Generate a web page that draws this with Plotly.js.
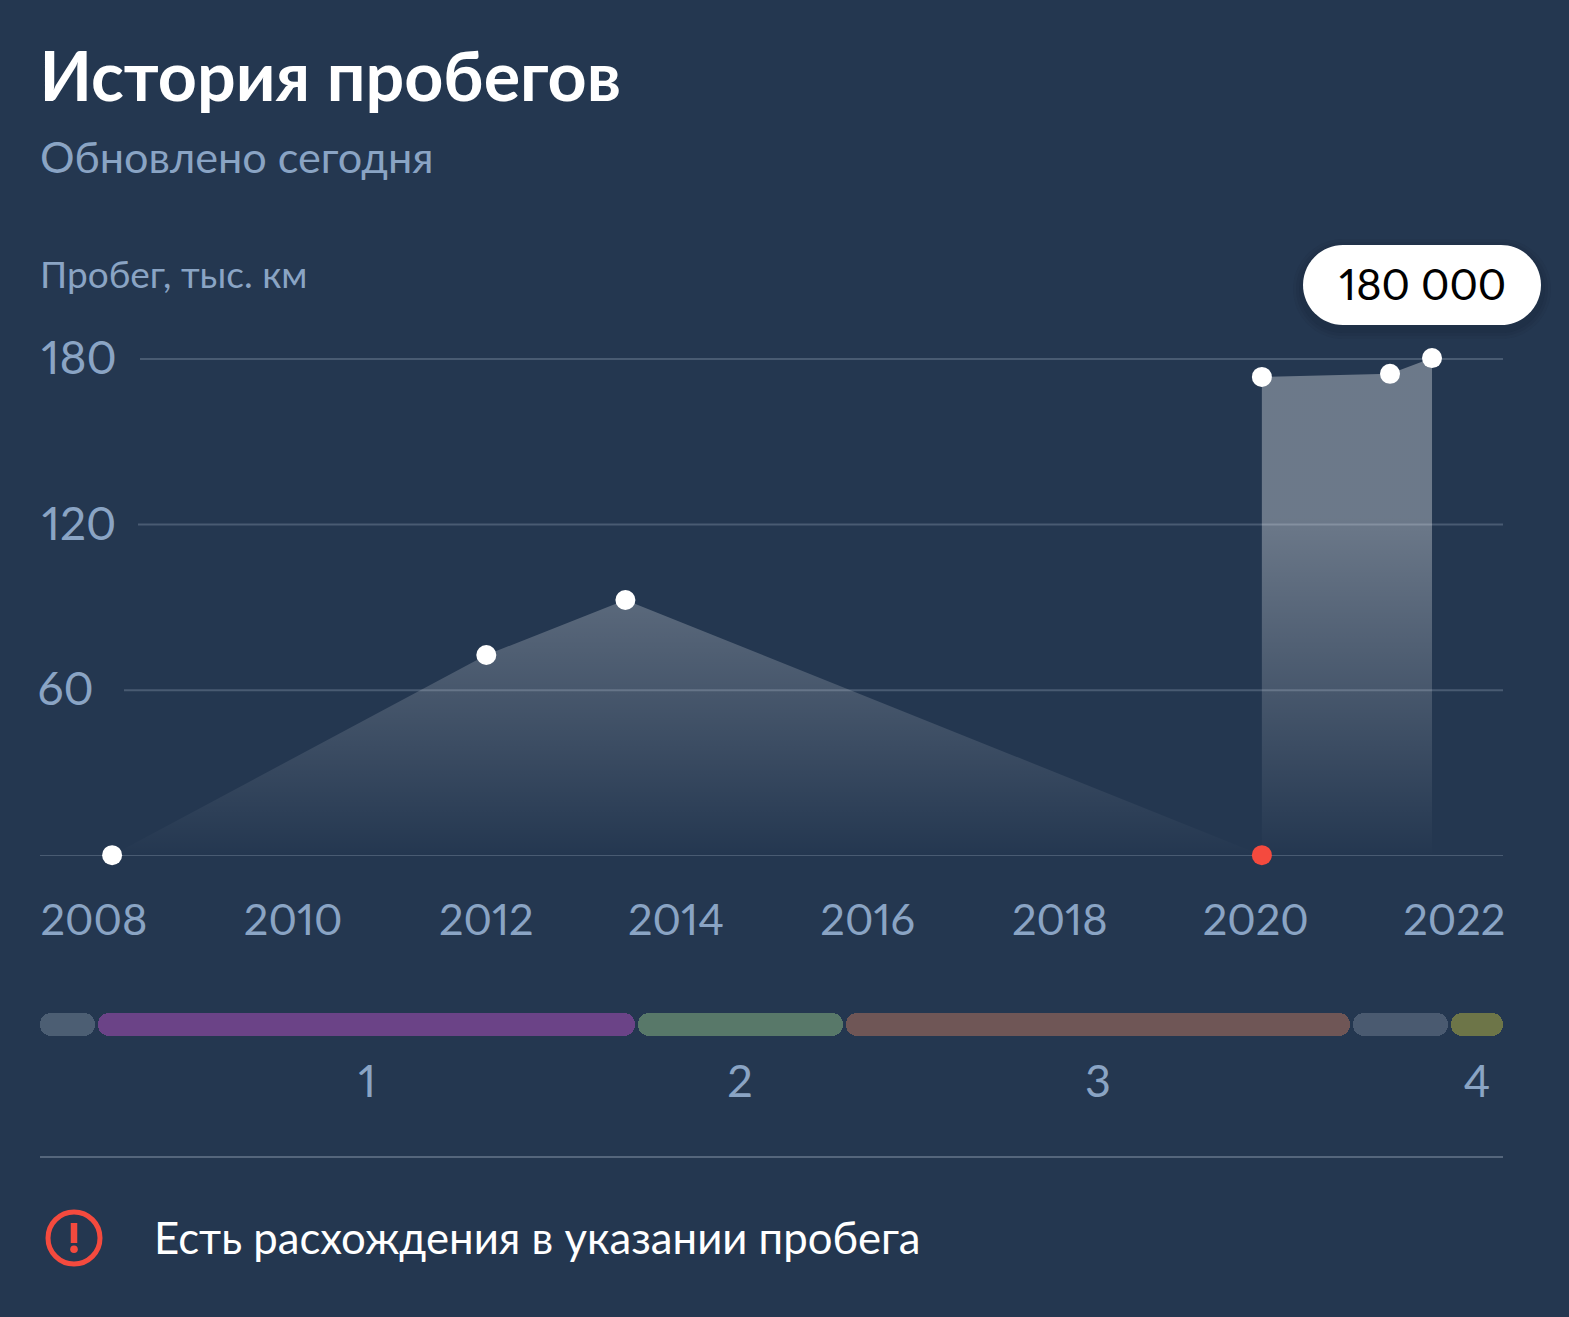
<!DOCTYPE html>
<html>
<head>
<meta charset="utf-8">
<script src="https://cdn.plot.ly/plotly-3.0.1.min.js"></script>
<style>html,body{margin:0;padding:0;background:#243750;overflow:hidden}#chart{width:1569px;height:1317px}
#chart svg text{font-feature-settings:"pnum" 1,"lnum" 1;font-variant-numeric:proportional-nums lining-nums}</style>
</head>
<body>
<div id="chart"></div>
<script>
// ---- data ----
const mileageYears = [2008.115, 2012.01, 2013.458, 2020.083, 2020.083, 2021.417, 2021.854];
const mileageValues = [0.3, 72.8, 92.7, 0.3, 173.5, 174.6, 180.3];
const pointColors = ['#ffffff','#ffffff','#ffffff','#f44a3e','#ffffff','#ffffff','#ffffff'];
const xTickPositions = [2007.927, 2010, 2012.01, 2013.985, 2015.98, 2017.98, 2020.02, 2022.085];
const xTickLabels = ['2008','2010','2012','2014','2016','2018','2020','2022'];
const yTickValues = [60, 120, 180];
const gridValues = [0, 60, 120, 180];
const gridStartPx = [40, 124, 138, 140];
const ownerStart = [2007.365, 2007.97, 2013.59, 2015.75, 2021.03, 2022.05];
const ownerEnd = [2007.94, 2013.56, 2015.72, 2021.0, 2022.02, 2022.594];
const ownerColors = ['#4c5e73','#6b4387','#587869','#6f5656','#4a5a70','#6d7548'];
const ownerLabels = ['', '1', '2', '3', '', '4'];
const titleText = 'История пробегов';
const subtitleText = 'Обновлено сегодня';
const unitText = 'Пробег, тыс. км';
const calloutText = '180 000';
const warningText = 'Есть расхождения в указании пробега';

const W = 1569, H = 1317;
const FONT = 'Lato, "Noto Sans", sans-serif';
const MUTED = '#8aa4c4';
const px = v => v / W, py = v => 1 - v / H;

function pill(x0, y0, x1, y1, r, color) {
  const k = r * 0.45;
  const P = (a, b) => px(a) + ',' + py(b);
  return {
    type: 'path', xref: 'paper', yref: 'paper', fillcolor: color, line: {width: 0}, layer: 'above',
    path: 'M' + P(x0 + r, y0) + ' L' + P(x1 - r, y0) +
      ' C' + P(x1 - k, y0) + ' ' + P(x1, y0 + k) + ' ' + P(x1, y0 + r) +
      ' C' + P(x1, y1 - k) + ' ' + P(x1 - k, y1) + ' ' + P(x1 - r, y1) +
      ' L' + P(x0 + r, y1) +
      ' C' + P(x0 + k, y1) + ' ' + P(x0, y1 - k) + ' ' + P(x0, y1 - r) +
      ' C' + P(x0, y0 + k) + ' ' + P(x0 + k, y0) + ' ' + P(x0 + r, y0) + ' Z'
  };
}

const mids = ownerStart.map((s, i) => (s + ownerEnd[i]) / 2);
const widths = ownerStart.map((s, i) => ownerEnd[i] - s);

const traces = [
  {
    type: 'scatter', mode: 'none', x: mileageYears, y: mileageValues, fill: 'tozeroy',
    fillgradient: {type: 'vertical', start: 0, stop: 180, colorscale: [
      [0, 'rgba(255,255,255,0)'], [0.68, 'rgba(255,255,255,0.33)'], [1, 'rgba(255,255,255,0.33)']]},
    hoverinfo: 'skip', showlegend: false
  },
  {
    type: 'scatter', mode: 'markers', x: mileageYears, y: mileageValues, cliponaxis: false,
    marker: {size: 20, color: pointColors, line: {width: 0}}, showlegend: false
  },
  {type: 'bar', orientation: 'h', yaxis: 'y2', y: mids.map(() => 0), base: ownerStart, x: widths,
    width: 1, marker: {color: ownerColors, line: {width: 0}}, showlegend: false, hoverinfo: 'skip'}
];

const shapes = [];
gridValues.forEach((v, i) => shapes.push({
  type: 'line', xref: 'paper', yref: 'y', x0: px(gridStartPx[i]), x1: px(1503), y0: v, y1: v,
  line: {color: '#495b72', width: 2}, layer: 'below'
}));
shapes.push({type: 'line', xref: 'paper', yref: 'paper', x0: px(40), x1: px(1503), y0: py(1157), y1: py(1157),
  line: {color: '#55667c', width: 2}});
[[10, .05], [7, .06], [4, .08]].forEach(s => shapes.push(
  pill(1303 - s[0], 245 + 4 - s[0], 1541 + s[0], 325 + 4 + s[0], 40 + s[0], 'rgba(15,25,40,' + s[1] + ')')));
shapes.push(pill(1303, 245, 1541, 325, 40, '#ffffff'));
// warning icon
shapes.push({type: 'circle', xref: 'paper', yref: 'paper', x0: px(48), x1: px(100), y0: py(1264), y1: py(1212),
  line: {color: '#f44a3e', width: 5}, fillcolor: 'rgba(0,0,0,0)'});
shapes.push({type: 'line', xref: 'paper', yref: 'paper', x0: px(74), x1: px(74), y0: py(1223), y1: py(1243),
  line: {color: '#f44a3e', width: 6.5}});
shapes.push({type: 'circle', xref: 'paper', yref: 'paper', x0: px(70.2), x1: px(77.8), y0: py(1253), y1: py(1245.4),
  fillcolor: '#f44a3e', line: {width: 0}});

const note = (text, x, y, size, color, anchor, extra) => Object.assign({
  text, xref: 'paper', yref: 'paper', x: px(x), y: py(y), xanchor: anchor || 'left', yanchor: 'middle',
  showarrow: false, font: {family: FONT, size, color}
}, extra || {});

const annotations = [
  note(subtitleText, 38, 156, 43.2, MUTED),
  note(unitText, 38, 274, 37, MUTED),
  note(calloutText, 1422, 283, 43.2, '#000000', 'center'),
  note(warningText, 152, 1237, 43.7, '#ffffff')
];
ownerLabels.forEach((t, i) => {
  if (t) annotations.push({text: t, xref: 'x', yref: 'paper', x: mids[i], y: py(1080), xanchor: 'center', yanchor: 'middle',
    showarrow: false, font: {family: FONT, size: 45, color: MUTED}});
});
yTickValues.forEach(v => annotations.push({text: String(v), xref: 'paper', yref: 'y', x: px(37), y: v + 0.9, xanchor: 'left', yanchor: 'middle',
  showarrow: false, font: {family: FONT, size: 46, color: MUTED}}));

const layout = {
  width: W, height: H,
  margin: {l: 0, r: 0, t: 0, b: 0, pad: 0},
  paper_bgcolor: '#243750', plot_bgcolor: 'rgba(0,0,0,0)',
  showlegend: false, barmode: 'overlay', bargap: 0, barcornerradius: 11,
  hovermode: false,
  title: {text: titleText, x: px(39.5), xref: 'paper', xanchor: 'left', y: py(77), yref: 'paper', yanchor: 'middle',
    font: {family: FONT, size: 68.2, color: '#ffffff', weight: 700}},
  xaxis: {
    domain: [0, 1], range: [2006.948, 2023.28], anchor: 'y',
    tickmode: 'array', tickvals: xTickPositions, ticktext: xTickLabels,
    ticks: '', showgrid: false, zeroline: false, showline: false,
    ticklabelstandoff: 35, tickangle: 0,
    tickfont: {family: FONT, size: 43.3, color: MUTED}
  },
  yaxis: {
    domain: [py(856), py(291)], range: [0, 204.6], anchor: 'x',
    showticklabels: false, tickmode: 'array', tickvals: yTickValues,
    ticks: '', showgrid: false, zeroline: false, showline: false
  },
  yaxis2: {domain: [py(1036), py(1013)], range: [-0.5, 0.5], anchor: 'x', visible: false, fixedrange: true},
  shapes, annotations
};

Plotly.newPlot('chart', traces, layout, {displayModeBar: false, responsive: false});
</script>
</body>
</html>
